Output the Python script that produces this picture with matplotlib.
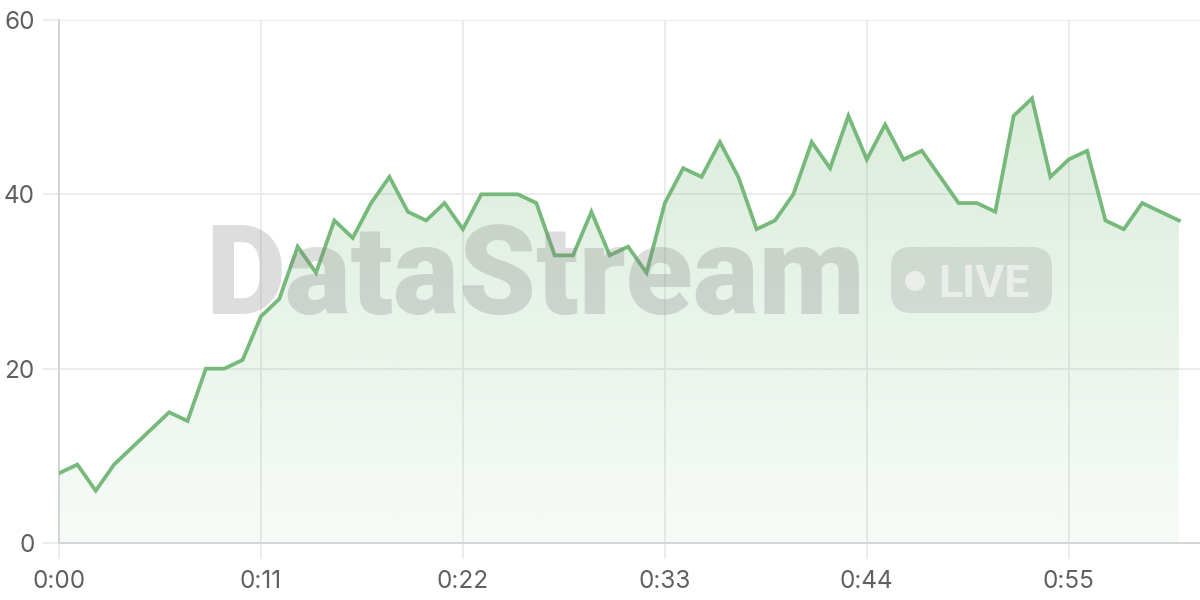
import matplotlib
matplotlib.use('Agg')
import matplotlib.pyplot as plt
import numpy as np
from matplotlib.patches import FancyBboxPatch, Ellipse

# seconds since start, one sample per second
seconds = list(range(62))
values = [8, 9, 6, 9, 11, 13, 15, 14, 20, 20, 21, 26, 28, 34, 31, 37, 35, 39, 42, 38,
          37, 39, 36, 40, 40, 40, 39, 33, 33, 38, 33, 34, 31, 39, 43, 42, 46, 42, 36, 37,
          40, 46, 43, 49, 44, 48, 44, 45, 42, 39, 39, 38, 49, 51, 42, 44, 45, 37, 36, 39,
          38, 37]
x_ticks = [0, 11, 22, 33, 44, 55]
x_labels = ['0:%02d' % s for s in x_ticks]
y_ticks = [0, 20, 40, 60]

line_col = '#76b97b'
grid_col = '#e9e9e9'
text_col = '#606060'

plt.rcParams['font.family'] = ['Inter', 'DejaVu Sans']

fig = plt.figure(figsize=(12, 6), dpi=100)
ax = fig.add_axes([59 / 1200, 57 / 600, 1 - 59 / 1200, (543 - 20) / 600])

# gradient fill under the line
fill = ax.fill_between(seconds, values, 0, color='none', lw=0)
grad = np.linspace(0.06, 0.28, 256).reshape(-1, 1)
rgba = np.zeros((256, 1, 4))
rgba[..., 0] = 0x76 / 255
rgba[..., 1] = 0xb9 / 255
rgba[..., 2] = 0x7b / 255
rgba[..., 3] = grad
img = ax.imshow(rgba, extent=[0, 61, 0, 55], origin='lower', aspect='auto', zorder=1)
img.set_clip_path(fill.get_paths()[0], transform=ax.transData)

ax.plot(seconds, values, color=line_col, lw=2.7, zorder=5, solid_joinstyle='miter')

ax.set_xlim(0, 62.15)
ax.set_ylim(0, 60)
ax.set_xticks(x_ticks)
ax.set_xticklabels(x_labels)
ax.set_yticks(y_ticks)
ax.grid(True, color=grid_col, lw=1.2, zorder=0)
ax.set_axisbelow(True)
ax.tick_params(axis='both', length=11.5, width=1.2, color=grid_col, labelcolor=text_col,
               labelsize=17.5)
ax.tick_params(axis='x', pad=8)
ax.tick_params(axis='y', pad=6)
for s in ['top', 'right']:
    ax.spines[s].set_visible(False)
for s in ['left', 'bottom']:
    ax.spines[s].set_color('#d4d4d4')
    ax.spines[s].set_linewidth(1.4)

# watermark
fig.text(205 / 1200, 1 - 314 / 600, 'DataStream', fontsize=89, fontweight='heavy',
         family=['Roboto', 'DejaVu Sans'], color='#7a7a7a', alpha=0.25,
         ha='left', va='baseline', zorder=3)
badge = FancyBboxPatch((891 / 1200, 1 - 313 / 600), 161 / 1200, 66 / 600,
                       boxstyle='round,pad=0,rounding_size=0.017', transform=fig.transFigure,
                       facecolor='#7a7a7a', alpha=0.2, lw=0, zorder=3, mutation_aspect=2)
fig.add_artist(badge)
fig.add_artist(Ellipse((915 / 1200, 1 - 281 / 600), 20 / 1200, 20 / 600,
                       transform=fig.transFigure, facecolor='white', alpha=0.55,
                       lw=0, zorder=4))
fig.text(938 / 1200, 1 - 297 / 600, 'LIVE', fontsize=32, fontweight='bold',
         family=['Roboto', 'DejaVu Sans'], color='white', alpha=0.55,
         ha='left', va='baseline', zorder=4)

fig.savefig('out.png', dpi=100)
